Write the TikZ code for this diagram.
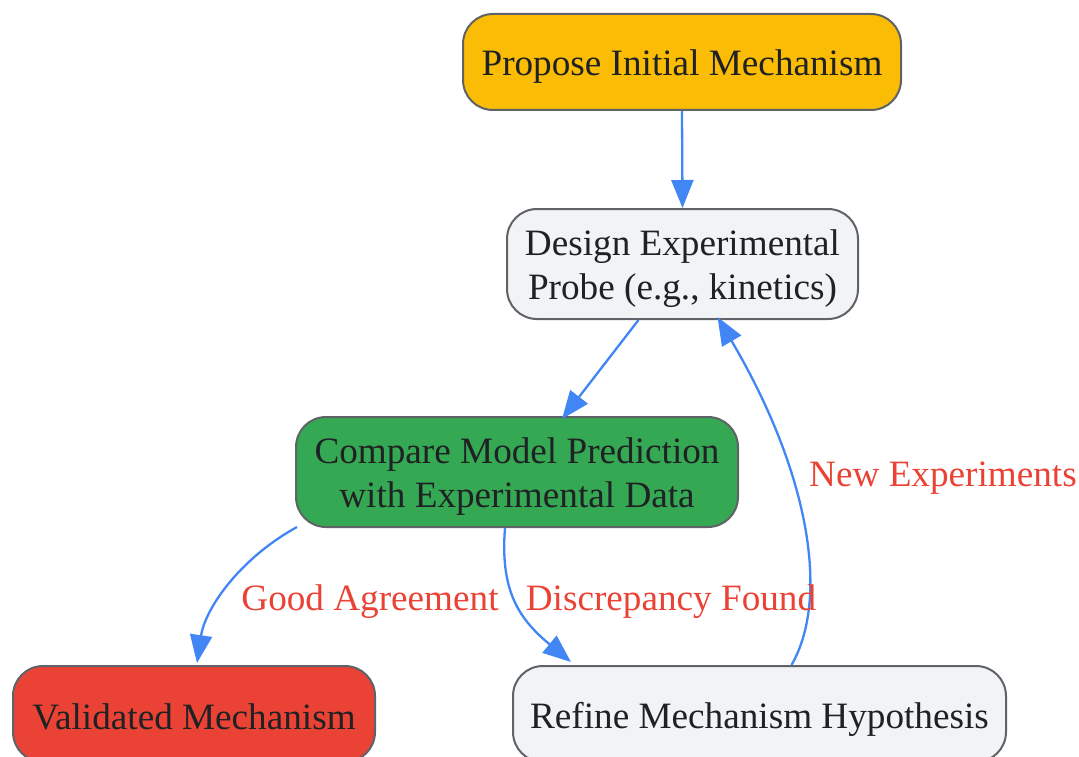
\documentclass[tikz,border=0pt]{standalone}
\usepackage{fontspec}
\setmainfont{Liberation Serif}
\usetikzlibrary{arrows.meta}
\definecolor{cyel}{HTML}{FABC05}
\definecolor{cgrn}{HTML}{34A853}
\definecolor{cred}{HTML}{EA4335}
\definecolor{cgry}{HTML}{F1F3F4}
\definecolor{cbrd}{HTML}{5F6368}
\definecolor{cedge}{HTML}{4285F4}
\definecolor{ctxt}{HTML}{202124}
\tikzset{
  box/.style={draw=cbrd, line width=2pt, rounded corners=30pt, inner sep=0pt},
  btext/.style={text=ctxt, align=center, font=\fontsize{37.2}{44}\selectfont, inner sep=0pt, yshift=-5pt},
  edge/.style={draw=cedge, line width=2.3pt, -{Triangle[length=28pt,width=22pt]}},
  elabel/.style={text=cred, font=\fontsize{37.2}{44}\selectfont, inner sep=0pt}
}
\begin{document}
\begin{tikzpicture}[x=1pt,y=-1pt]
\useasboundingbox (0,0) rectangle (1079,757);
\node[box, fill=cyel, minimum width=438pt, minimum height=96pt] (prop) at (682,62) {};
\node[box, fill=cgry, minimum width=351pt, minimum height=110pt] (des) at (682.5,264) {};
\node[box, fill=cgrn, minimum width=442pt, minimum height=110pt] (cmp) at (517,472) {};
\node[box, fill=cred, minimum width=362pt, minimum height=96pt] (val) at (194,714) {};
\node[box, fill=cgry, minimum width=493pt, minimum height=96pt] (ref) at (759.5,714) {};

\node[btext] (propt) at (prop.center) {Propose Initial Mechanism};
\node[btext] (dest) at (des.center) {Design Experimental\\Probe (e.g., kinetics)};
\node[btext] (cmpt) at (cmp.center) {Compare Model Prediction\\with Experimental Data};
\node[btext, yshift=2pt] (valt) at (val.center) {Validated Mechanism};
\node[btext] (reft) at (ref.center) {Refine Mechanism Hypothesis};

\draw[edge] (prop.south) -- (des.north);
\draw[edge] ([xshift=-44pt]des.south) -- ([xshift=45pt,yshift=-3pt]cmp.north);
\draw[edge] ([xshift=2pt,yshift=1pt]cmp.south west) .. controls +(-58,32) and +(8,-54) .. ([xshift=3pt,yshift=2pt]val.north);
\draw[edge] ([xshift=-12pt]cmp.south) .. controls +(-5,63) and +(-52,-43) .. ([xshift=59pt,yshift=3pt]ref.north west);
\draw[edge] ([xshift=32pt]ref.north) .. controls +(38,-66) and +(93,158) .. ([xshift=35pt,yshift=3pt]des.south);

\node[elabel] (lgood) at (370,602) {Good Agreement};
\node[elabel] (ldisc) at (671,602) {Discrepancy Found};
\node[elabel] (lnew) at (943,478) {New Experiments};
\end{tikzpicture}
\end{document}
